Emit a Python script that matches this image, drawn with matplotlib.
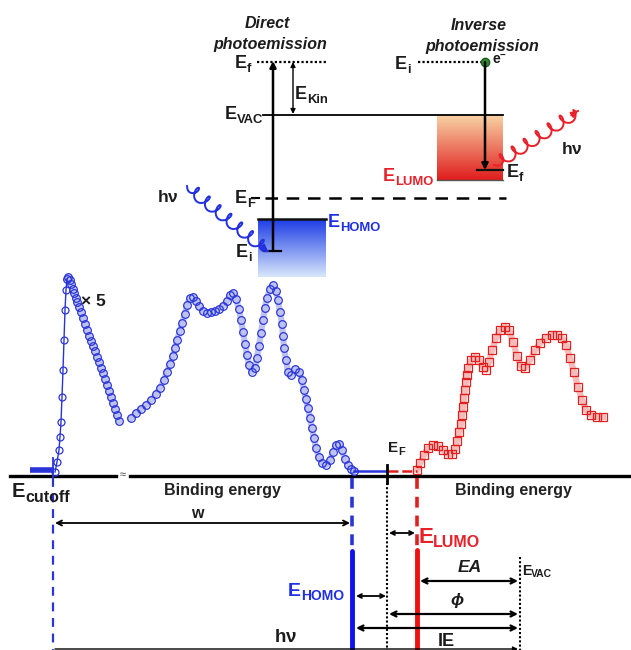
import numpy as np
import matplotlib.pyplot as plt
from matplotlib.colors import LinearSegmentedColormap

plt.rcParams['font.family'] = ['Liberation Sans', 'DejaVu Sans']
plt.rcParams['mathtext.fontset'] = 'custom'
plt.rcParams['mathtext.rm'] = 'Liberation Sans:bold'
plt.rcParams['mathtext.it'] = 'Liberation Sans:bold:italic'
plt.rcParams['mathtext.bf'] = 'Liberation Sans:bold'

# --- spectra (pixel coordinates, y down) ---
# UPS cutoff edge (x5), sparse circles on the rise
rise_x = [55, 57, 59, 60, 61, 62, 63, 64, 65, 66]
rise_y = [472, 462, 450, 437, 422, 397, 370, 340, 310, 290]
# decay after the cutoff peak
decay_x = [67, 68, 70, 71, 73, 74, 76, 77, 79, 81, 83, 85, 87, 89, 91, 93, 95, 97,
           99, 101, 103, 105, 107, 109, 111, 113, 115, 117, 119]
decay_y = [279, 277, 280, 284, 289, 293, 298, 302, 307, 312, 318, 324, 330, 336, 341, 346,
           351, 357, 362, 368, 373, 379, 385, 391, 397, 403, 409, 415, 421]
# UPS valence band
ups_x = [131, 136, 141, 146, 151, 156, 160, 164, 167, 170, 173, 175, 177, 180, 182, 185,
         187, 190, 193, 196, 199, 203, 207, 211, 215, 219, 223, 227, 230, 233, 236, 239,
         241, 243, 245, 247, 249, 252, 255, 257, 259, 261, 263, 265, 267, 270, 273, 276,
         278, 280, 282, 283, 284, 286, 288, 291, 295, 299, 302, 304, 306, 308, 310, 312,
         314, 316, 319, 322, 326, 330, 333, 336, 339, 342, 345, 348, 351, 354]
ups_y = [418, 413, 409, 405, 400, 394, 388, 380, 372, 364, 356, 348, 340, 331, 323, 314,
         305, 298, 297, 301, 306, 311, 313, 312, 311, 309, 306, 301, 295, 293, 299, 309,
         320, 332, 344, 355, 365, 372, 368, 358, 346, 333, 320, 308, 298, 289, 285, 291,
         300, 312, 324, 336, 348, 360, 372, 375, 369, 372, 380, 390, 399, 408, 418, 428,
         438, 448, 457, 463, 465, 460, 452, 445, 444, 450, 459, 465, 469, 471]
# IPES conduction band
ipes_x = [417, 420, 424, 428, 433, 438, 443, 448, 452, 455, 457, 459, 461, 462, 463, 464,
          465, 466, 467, 468, 471, 475, 479, 483, 486, 489, 492, 496, 500, 505, 509, 513,
          517, 521, 525, 530, 535, 540, 546, 552, 557, 562, 566, 570, 574, 578, 582, 586,
          591, 597, 603]
ipes_y = [470, 463, 455, 448, 445, 446, 450, 454, 454, 449, 441, 432, 424, 415, 407, 398,
          390, 382, 375, 368, 360, 357, 360, 367, 370, 362, 350, 338, 330, 327, 330, 342,
          356, 366, 368, 360, 350, 343, 338, 335, 335, 338, 345, 358, 372, 387, 400, 410,
          415, 417, 417]

blue = '#2a35d8'
red = '#e0201e'
lab_blue = '#1f2fe6'
lab_red = '#e8202a'
ink = '#1c1c1c'
PX = 100 / 72.0  # pixels per point

fig = plt.figure(figsize=(6.31, 6.5), dpi=100)
ax = fig.add_axes([0, 0, 1, 1])


def elab(x, y, sub, size=13, ssize=None, color=ink, drop=None):
    # "E" with a subscript; x = left edge, y = baseline of the E (pixels)
    ssize = ssize or size * 0.72
    drop = drop if drop is not None else size * PX * 0.22
    ax.text(x, y, 'E', fontsize=size, weight='bold', color=color, ha='left', va='baseline')
    ax.text(x + 0.667 * size * PX, y + drop, sub, fontsize=ssize, weight='bold',
            color=color, ha='left', va='baseline')


def arrow(p0, p1, style='<->', lw=1.4, color='k', ms=9):
    ax.annotate('', xy=p1, xytext=p0,
                arrowprops=dict(arrowstyle=style, lw=lw, color=color,
                                shrinkA=0, shrinkB=0, mutation_scale=ms))


def wavy(p0, p1, amp, n, color):
    p0 = np.array(p0, float)
    p1 = np.array(p1, float)
    d = p1 - p0
    L = np.hypot(*d)
    nrm = np.array([-d[1], d[0]]) / L
    t = np.linspace(0, 1, 600)
    env = np.clip(np.minimum(t, 1 - t) * 14, 0, 1)
    ph = 2 * np.pi * n * t
    # small loops, like a hand-drawn photon
    along = -4.0 * np.cos(ph) * env / L
    pts = p0[None, :] + (t + along)[:, None] * d[None, :] + (amp * env * np.sin(ph))[:, None] * nrm[None, :]
    ax.plot(pts[:, 0], pts[:, 1], color=color, lw=1.4)
    arrow(tuple(p0 + 0.92 * d), tuple(p1), style='-|>', lw=1.4, color=color, ms=9)


def grad_box(x0, x1, y0, y1, c_top, c_bot):
    cmap = LinearSegmentedColormap.from_list('g', [c_top, c_bot])
    g = np.linspace(0, 1, 100)[:, None]
    ax.imshow(g, cmap=cmap, extent=(x0, x1, y1, y0), origin='upper',
              aspect='auto', zorder=0)


# ---------------- top: energy diagrams ----------------
for x, y, s in [(267, 23, 'Direct'), (270, 44, 'photoemission'),
                (479, 25, 'Inverse'), (482, 46, 'photoemission')]:
    ax.text(x, y, s, fontsize=11.5, style='italic', weight='bold', color=ink,
            ha='center', va='center')

grad_box(258, 326, 219, 277, '#1e3de6', '#d6e6fb')
ax.plot([258, 326], [219, 219], color='#111', lw=1.8)
grad_box(437, 503, 115, 180, '#f8d2a4', '#e01e1e')
ax.plot([437, 503], [180, 180], color='#555', lw=1.0)

ax.plot([257, 328], [62, 62], color='k', lw=1.6, ls=(0, (1, 1)))
ax.plot([263, 503], [115, 115], color='k', lw=1.3)
ax.plot([252, 259], [198, 198], color='k', lw=1.5)
ax.plot([265, 506], [198, 198], color='k', lw=1.8, ls=(0, (5, 3.5)))
ax.plot([264, 281], [251, 251], color='k', lw=1.6)
arrow((273, 251), (273, 61), style='-|>', lw=1.8, ms=9)
arrow((293, 114), (293, 62), style='<|-|>', lw=1.0, ms=7)

elab(235, 68, 'f', 13)
elab(295, 99, 'Kin', 13)
elab(225, 119, 'VAC', 13)
elab(235, 203, 'F', 13)
elab(236, 257, 'i', 13)
elab(328, 227, 'HOMO', 13, color=lab_blue)
wavy((187, 186), (268, 251), 6, 7.5, '#2230e0')
ax.text(168, 197, r'$\mathrm{h\nu}$', fontsize=12.5, color=ink, ha='center', va='center')

ax.plot([418, 483], [62, 62], color='k', lw=1.6, ls=(0, (1, 1)))
elab(395, 69, 'i', 13)
arrow((485, 62), (485, 170), style='-|>', lw=1.8, ms=9)
ax.plot([485], [62], 'o', ms=6, mfc='#2e8b2e', mec='#1f5f1f')
ax.text(492, 60, r'$\mathrm{e}^{-}$', fontsize=10, color=ink, ha='left', va='center')
ax.plot([477, 503], [170, 170], color='#111', lw=1.6)
elab(507, 177, 'f', 13)
elab(383, 181, 'LUMO', 13, color=lab_red)
wavy((494, 165), (578, 111), 6, 7, '#e8202a')
ax.text(572, 149, r'$\mathrm{h\nu}$', fontsize=12.5, color=ink, ha='center', va='center')

# ---------------- bottom: spectra ----------------
ax.plot([10, 116], [476, 476], color='k', lw=2.4)
ax.plot([130, 631], [476, 476], color='k', lw=2.4)
ax.text(123, 475, '≈', fontsize=8, color='#444', ha='center', va='center')

ax.plot([30, 54], [470, 470], color=blue, lw=4, solid_capstyle='butt')
ax.plot([53, 53], [458, 478], color=blue, lw=1.3)
ax.plot(rise_x + decay_x[:1], rise_y + decay_y[:1], color=blue, lw=1.0)
ax.plot(rise_x, rise_y, 'o', ms=5, mfc='none', mec=blue, mew=0.9)
ax.plot(decay_x, decay_y, color=blue, lw=4.5, alpha=0.3)
ax.plot(decay_x, decay_y, 'o', ms=5.5, mfc='none', mec=blue, mew=0.9)
ax.text(81, 302, '× 5', fontsize=12.5, weight='bold', color=ink, ha='left', va='center')

ax.plot(ups_x, ups_y, color=blue, lw=4.5, alpha=0.3)
ax.plot(ups_x, ups_y, 'o', ms=5.5, mfc='none', mec=blue, mew=0.9)
ax.plot([354, 386], [471, 471], color=blue, lw=1.8)

ax.plot([388, 417], [471, 471], color=red, lw=1.8, ls=(0, (4, 1.5)))
ax.plot(ipes_x, ipes_y, color=red, lw=4.5, alpha=0.3)
ax.plot(ipes_x, ipes_y, 's', ms=5.5, mfc='none', mec=red, mew=0.9)

ax.plot([387, 387], [465, 483], color='k', lw=2.0)
elab(388, 452, 'F', 11)

elab(12, 497, 'cutoff', 14.5, 11.5, drop=5)
ax.text(222, 490, 'Binding energy', fontsize=11.5, weight='bold', color='#222', ha='center', va='center')
ax.text(513, 490, 'Binding energy', fontsize=11.5, weight='bold', color='#222', ha='center', va='center')

# vertical guides
ax.plot([53, 53], [478, 650], color=blue, lw=1.6, ls=(0, (4, 3)))
ax.plot([352, 352], [478, 548], color=blue, lw=2.6, ls=(0, (3, 2.2)))
ax.plot([352, 352], [551, 650], color='#1010f0', lw=3.5, solid_capstyle='round')
ax.plot([387, 387], [483, 650], color='k', lw=1.5, ls=(0, (1, 1)))
ax.plot([417, 417], [478, 546], color=red, lw=2.6, ls=(0, (3, 2.2)))
ax.plot([417, 417], [550, 650], color='#f01010', lw=3.5, solid_capstyle='round')
ax.plot([520, 520], [557, 650], color='k', lw=1.5, ls=(0, (1, 1)))

# energy arrows
arrow((55, 523), (350, 523), lw=1.3)
ax.text(197, 513, 'w', fontsize=11.5, weight='bold', color=ink, ha='center', va='center')
arrow((389, 533), (415, 533), lw=1.3, ms=7)
elab(418, 543, 'LUMO', 16, 11.5, color=lab_red, drop=4)
arrow((420, 581), (518, 581), lw=1.6)
ax.text(470, 568, 'EA', fontsize=12.5, weight='bold', style='italic', color=ink, ha='center', va='center')
elab(522, 575, 'VAC', 10, 7.5, drop=2)
elab(288, 596, 'HOMO', 14, 10, color=lab_blue, drop=4)
arrow((356, 596), (386, 596), lw=1.3, ms=7)
arrow((389, 614), (518, 614), lw=1.6)
ax.text(457, 600, r'$\phi$', fontsize=12.5, color=ink, ha='center', va='center')
arrow((356, 628), (518, 628), lw=1.6)
ax.text(446, 641, 'IE', fontsize=13, weight='bold', color=ink, ha='center', va='center')
ax.text(286, 637, r'$\mathrm{h\nu}$', fontsize=13.5, color=ink, ha='center', va='center')
arrow((55, 649), (518, 649), style='-|>', lw=1.0, ms=7)

ax.set_xlim(0, 631)
ax.set_ylim(650, 0)
ax.axis('off')
fig.savefig('out.png', dpi=100)
